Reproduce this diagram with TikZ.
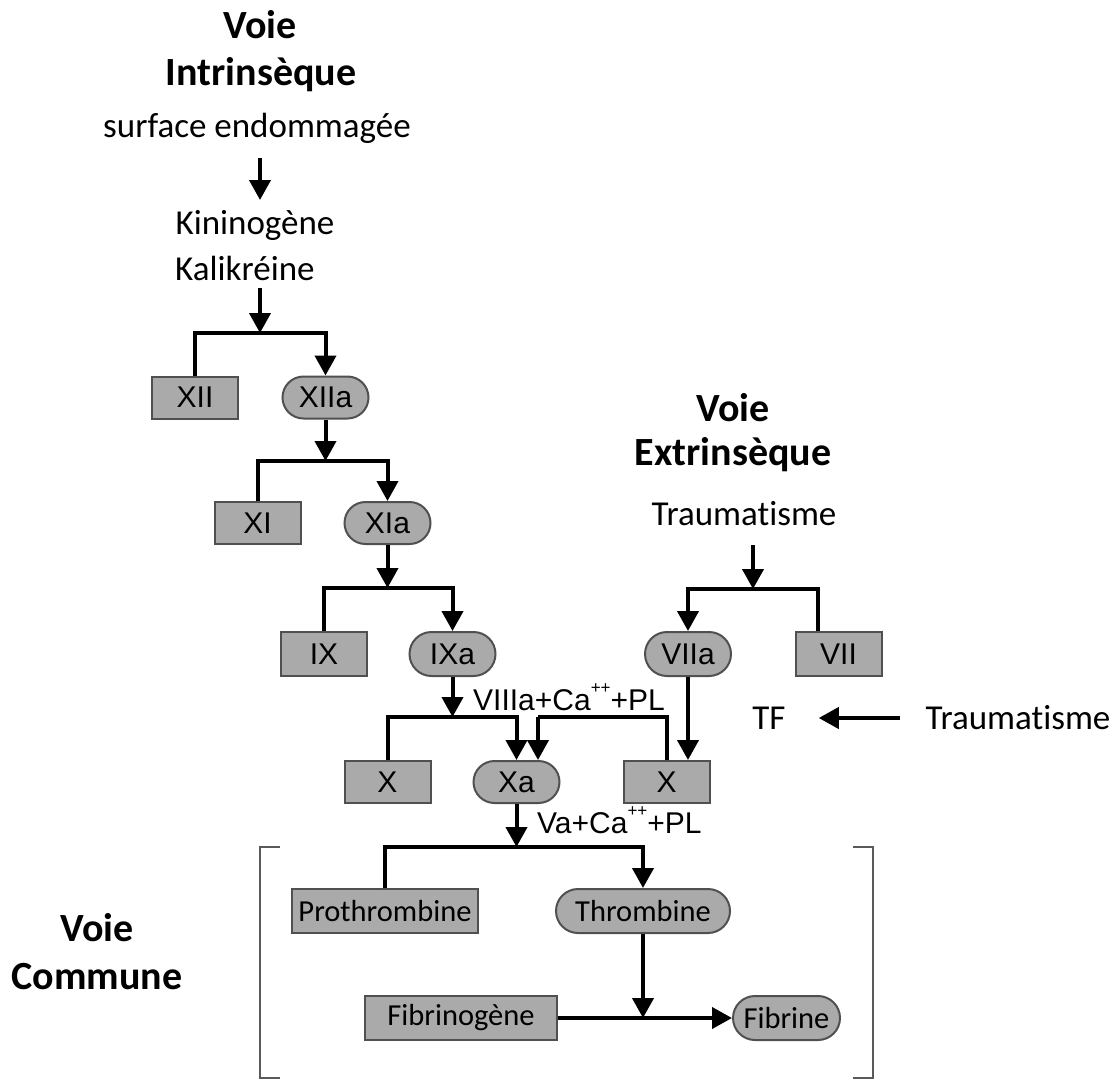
\documentclass[tikz,border=0pt]{standalone}
\usepackage{fontspec}
\setmainfont[Ligatures=NoCommon]{Carlito}
\newfontfamily\arialf{Liberation Sans}
\usetikzlibrary{arrows.meta,shapes.misc,calc}
\definecolor{boxfill}{RGB}{170,170,170}
\definecolor{boxline}{RGB}{80,80,80}
\definecolor{brk}{RGB}{90,90,90}
\newcommand{\suppp}{\raisebox{0.55em}{\fontsize{17}{17}\selectfont ++}}
\begin{document}
\begin{tikzpicture}[x=1pt,y=-1pt,
  fact/.style={rectangle,draw=boxline,line width=2pt,fill=boxfill,minimum width=86pt,minimum height=42pt,inner sep=0pt,font=\arialf\fontsize{30}{30}\selectfont},
  act/.style={rounded rectangle,draw=boxline,line width=2pt,fill=boxfill,minimum width=86pt,minimum height=42pt,inner sep=0pt,font=\arialf\fontsize{30}{30}\selectfont},
  factc/.style={fact,font=\fontsize{30.5}{30.5}\selectfont},
  actc/.style={act,font=\fontsize{30.5}{30.5}\selectfont},
  flow/.style={line width=4pt,-{Triangle[length=20pt,width=21pt]}},
  link/.style={line width=4pt},
  lbl/.style={font=\fontsize{35}{42}\selectfont,inner sep=0pt},
  title/.style={font=\bfseries\fontsize{40}{48}\selectfont,inner sep=0pt},
  cof/.style={font=\arialf\fontsize{30}{30}\selectfont,inner sep=0pt,anchor=west},
  bracket/.style={draw=brk,line width=2pt}]
\useasboundingbox (0,0) rectangle (1120,1080);

% ---- Intrinsic titles
\node[title] (vi1) at (260,25) {Voie};
\node[title] (vi2) at (261,75) {Intrinsèque};
\node[lbl] (surf) at (257,128) {surface endommagée};
\node[lbl] (kin) at (255,225) {Kininogène};
\node[lbl,anchor=west] (kal) at (175,268) {Kalikréine};
\coordinate (a1s) at (260,158);
\coordinate (a1e) at (260,200);
\draw[flow] (a1s) -- (a1e);
\coordinate (a2s) at (260,288);
\coordinate (j1) at (260,333);

% ---- factor nodes
\node[fact] (XII) at (195,397.5) {XII};
\node[act] (XIIa) at (325.5,397.5) {XIIa};
\node[fact] (XI) at (257.5,523) {XI};
\node[act] (XIa) at (387.5,523) {XIa};
\node[fact,minimum height=44pt] (IX) at (324,654) {IX};
\node[act,minimum height=44pt] (IXa) at (452.5,654) {IXa};
\node[act,minimum height=44pt] (VIIa) at (688,654) {VIIa};
\node[fact,minimum height=44pt] (VII) at (838.5,654) {VII};
\node[fact] (X1) at (387.5,782) {X};
\node[act] (Xa) at (516.5,782) {Xa};
\node[fact] (X2) at (666.5,782) {X};

% ---- intrinsic cascade
\draw[flow] (a2s) -- (j1);
\draw[link] (XII.north) |- (j1);
\draw[flow] (j1) -| (XIIa.north);

\coordinate (j2) at (325.5,461);
\draw[flow] (XIIa.south) -- (j2);
\draw[link] (XI.north) |- (j2);
\draw[flow] (j2) -| (XIa.north);

\coordinate (j3) at (387.5,588);
\draw[flow] (XIa.south) -- (j3);
\draw[link] (IX.north) |- (j3);
\draw[flow] (j3) -| (IXa.north);

\coordinate (j4) at (452.5,717);
\draw[flow] (IXa.south) -- (j4);
\node[cof] (c8) at (473,697) {VIIIa+Ca\suppp+PL};
\draw[link] (X1.north) |- (j4);
\draw[flow] (j4) -| (Xa.north);

% ---- extrinsic
\node[title] (ve1) at (733,408) {Voie};
\node[title] (ve2) at (733,455) {Extrinsèque};
\node[lbl] (tr1) at (744,514) {Traumatisme};
\coordinate (e1s) at (753,545);
\coordinate (je) at (753,589);
\draw[flow] (e1s) -- (je);
\draw[link] ([xshift=-21pt]VII.north) |- (je);
\draw[flow] (je) -| (VIIa.north);
\draw[flow] (VIIa.south) -- (VIIa.south |- X2.north);
\coordinate (jx) at (538,717);
\draw[link] (X2.north) |- (jx);
\draw[flow] (jx) -- (jx |- Xa.north);

\node[lbl] (tf) at (769,718) {TF};
\node[lbl] (tr2) at (1018,718) {Traumatisme};
\draw[flow] ([xshift=-25pt]tr2.west) -- ([xshift=33pt]tf.east);

% ---- common pathway
\node[factc,minimum width=186pt,minimum height=44pt] (pro) at (385,911) {Prothrombine};
\node[actc,minimum width=174pt,minimum height=44pt] (thr) at (643,911) {Thrombine};
\node[factc,minimum width=192pt,minimum height=44pt] (fbg) at (461,1018) {Fibrinogène};
\node[actc,minimum width=107pt,minimum height=44pt] (fbn) at (786.5,1018) {Fibrine};

\coordinate (j5) at (516.5,847);
\draw[flow] (Xa.south) -- (j5);
\node[cof] (c5) at (537,820) {Va+Ca\suppp+PL};
\draw[link] (pro.north) |- (j5);
\draw[flow] (j5) -| (thr.north);

\coordinate (j6) at (643,1018);
\draw[flow] (thr.south) -- (j6);
\draw[flow] (fbg.east) -- (fbn.west);

\draw[bracket] (280,847) -- (260,847) -- (260,1078) -- (280,1078);
\draw[bracket] (853,847) -- (873,847) -- (873,1078) -- (853,1078);

\node[title] (vc1) at (97,928) {Voie};
\node[title] (vc2) at (97,977) {Commune};
\end{tikzpicture}
\end{document}
